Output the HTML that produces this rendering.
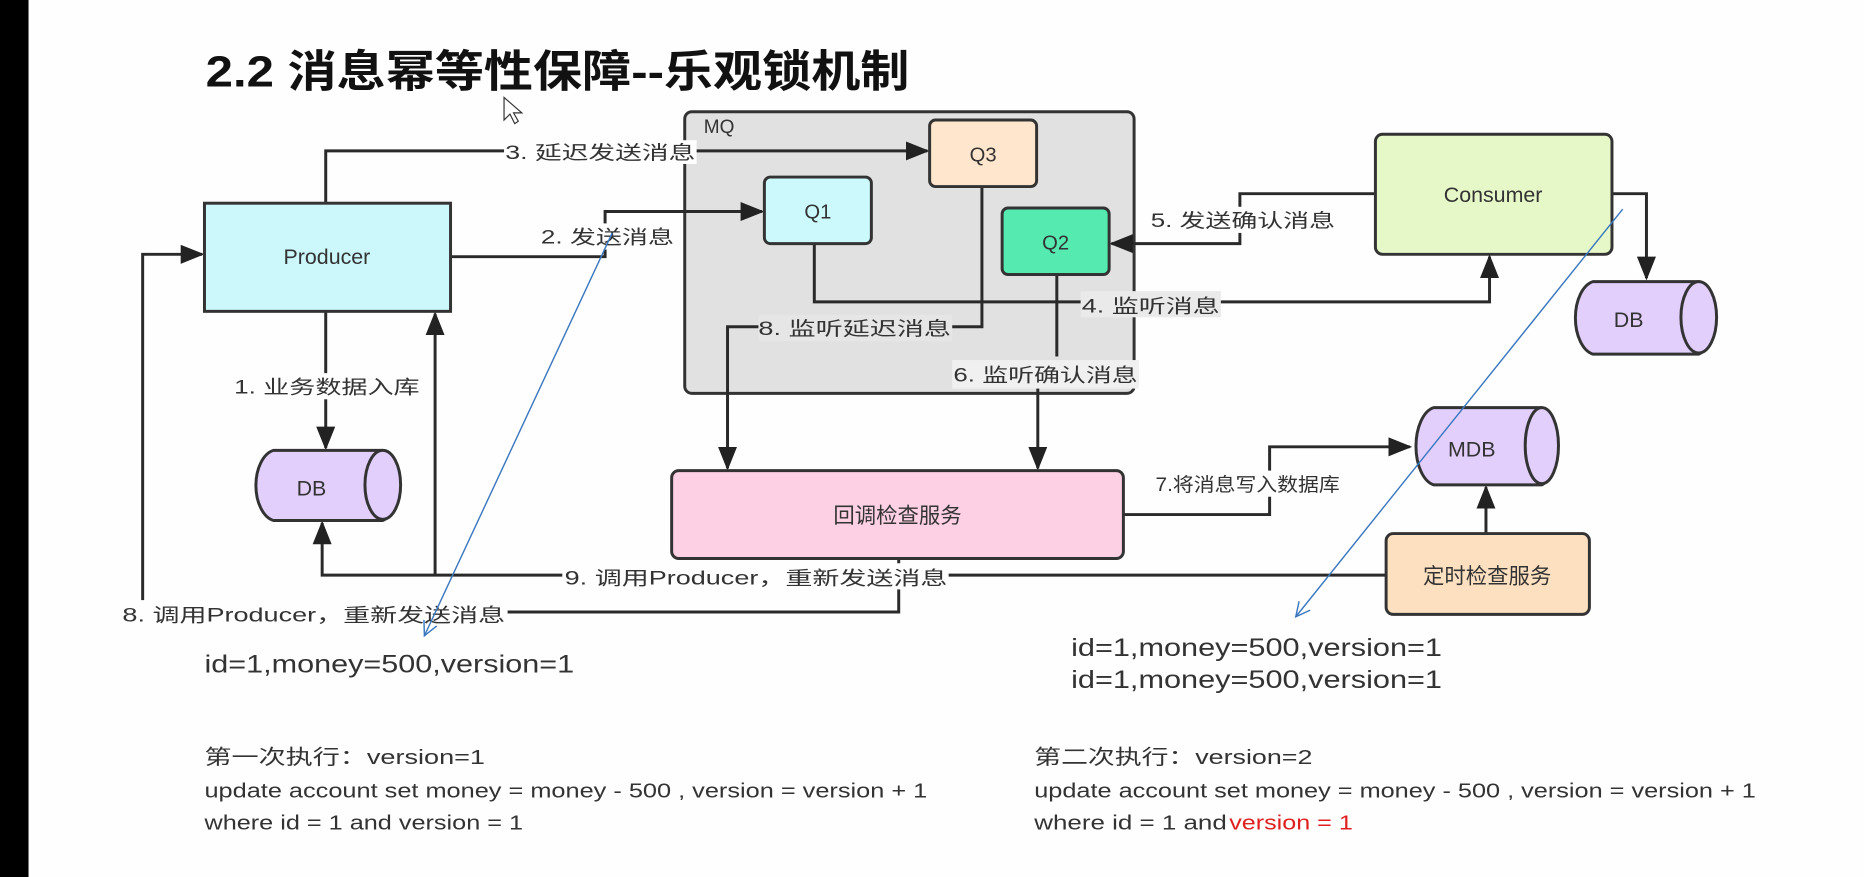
<!DOCTYPE html>
<html><head><meta charset="utf-8"><style>
html,body{margin:0;padding:0;background:#fefefe;}
svg{display:block;}
text{font-family:"Liberation Sans","Noto Sans CJK SC",sans-serif;fill:#333;}
</style></head><body>
<svg width="1864" height="877" viewBox="0 0 1568 738" preserveAspectRatio="none" xmlns="http://www.w3.org/2000/svg">
<defs>
<marker id="a" markerUnits="userSpaceOnUse" markerWidth="20" markerHeight="16" refX="18" refY="8" orient="auto"><path d="M0,0 L20,8 L0,16 Z" fill="#222"/></marker>
<marker id="b" markerUnits="userSpaceOnUse" markerWidth="14" markerHeight="14" refX="12" refY="7" orient="auto"><path d="M0,1 L12,7 L0,13" fill="none" stroke="#3a78c0" stroke-width="1.2"/></marker>
</defs>
<rect x="0" y="0" width="1568" height="738" fill="#fefefe"/>
<rect x="0" y="0" width="24" height="738" fill="#000"/>
<text x="173" y="73" font-size="37" font-weight="bold" fill="#111" textLength="592" lengthAdjust="spacingAndGlyphs" style="fill:#111">2.2 消息幂等性保障--乐观锁机制</text>
<path d="M424,82 L424,101 L429,96 L433,104 L436,102 L432,95 L439,95 Z" fill="#fff" stroke="#333" stroke-width="1"/>

<rect x="576" y="94" width="378" height="237" rx="6" fill="#e1e1e1" stroke="#333" stroke-width="2.5"/>
<text x="592" y="112" font-size="16">MQ</text>

<g stroke="#2a2a2a" stroke-width="2.5" fill="none">
<path d="M274,171 V127 H780" marker-end="url(#a)"/>
<path d="M379,216 H509 V178 H641" marker-end="url(#a)"/>
<path d="M274,262 V377" marker-end="url(#a)"/>
<path d="M366,485 V264" marker-end="url(#a)"/>
<path d="M756,470 V515 H120 V214 H170" marker-end="url(#a)"/>
<path d="M1166,484 H271 V440" marker-end="url(#a)"/>
<path d="M685,205 V254 H1253 V216" marker-end="url(#a)"/>
<path d="M1157,163 H1043 V205 H935" marker-end="url(#a)"/>
<path d="M826,157 V275 H612 V394" marker-end="url(#a)"/>
<path d="M889,231 V300"/>
<path d="M873,325 V394" marker-end="url(#a)"/>
<path d="M945,433 H1068 V376 H1186" marker-end="url(#a)"/>
<path d="M1356,163 H1385 V234" marker-end="url(#a)"/>
<path d="M1250,449 V410" marker-end="url(#a)"/>
</g>

<g stroke="#333" stroke-width="2.5">
<rect x="782" y="101" width="90" height="56" rx="5" fill="#ffe6cc"/>
<rect x="643" y="149" width="90" height="56" rx="5" fill="#ccfafc"/>
<rect x="843" y="175" width="90" height="56" rx="5" fill="#55eab0"/>
<rect x="172" y="171" width="207" height="91" fill="#ccf8fc"/>
<rect x="1157" y="113" width="199" height="101" rx="6" fill="#e6f8c8"/>
<rect x="565" y="396" width="380" height="74" rx="6" fill="#fdd0e4"/>
<rect x="1166" y="449" width="171" height="68" rx="6" fill="#fde0c0"/>
</g>
<text x="827" y="136" font-size="17" text-anchor="middle">Q3</text>
<text x="688" y="184" font-size="17" text-anchor="middle">Q1</text>
<text x="888" y="210" font-size="17" text-anchor="middle">Q2</text>
<text x="275" y="222" font-size="18" text-anchor="middle">Producer</text>
<text x="1256" y="170" font-size="18" text-anchor="middle">Consumer</text>
<text x="755" y="440" font-size="18" text-anchor="middle">回调检查服务</text>
<text x="1251" y="491" font-size="18" text-anchor="middle">定时检查服务</text>

<g stroke="#333" stroke-width="2.5" fill="#e2cffb">
<path d="M230,379 H322 A15,30 0 0 1 322,438 H230 A18,30 0 0 1 230,379 Z"/>
<ellipse cx="322" cy="408" rx="15" ry="29"/>
<path d="M1340,237 H1429 A15,31 0 0 1 1429,298 H1340 A18,31 0 0 1 1340,237 Z"/>
<ellipse cx="1429" cy="267" rx="15" ry="30"/>
<path d="M1206,343 H1297 A14,33 0 0 1 1297,408 H1206 A18,33 0 0 1 1206,343 Z"/>
<ellipse cx="1297" cy="375" rx="14" ry="32"/>
</g>
<text x="262" y="417" font-size="18" text-anchor="middle">DB</text>
<text x="1370" y="275" font-size="18" text-anchor="middle">DB</text>
<text x="1238" y="384" font-size="18" text-anchor="middle">MDB</text>

<g font-size="16">
<rect x="424" y="118" width="162" height="20" fill="#fefefe"/>
<text x="425" y="134" textLength="160" lengthAdjust="spacingAndGlyphs">3. 延迟发送消息</text>
<rect x="455" y="188" width="112" height="22" fill="#fefefe"/>
<text x="455" y="205" textLength="112" lengthAdjust="spacingAndGlyphs">2. 发送消息</text>
<rect x="196" y="314" width="158" height="22" fill="#fefefe"/>
<text x="197" y="331" textLength="156" lengthAdjust="spacingAndGlyphs">1. 业务数据入库</text>
<rect x="638" y="265" width="163" height="22" fill="#e6e6e6"/>
<text x="638" y="282" textLength="162" lengthAdjust="spacingAndGlyphs">8. 监听延迟消息</text>
<rect x="909" y="245" width="118" height="22" fill="#eaeaea"/>
<text x="910" y="263" textLength="116" lengthAdjust="spacingAndGlyphs">4. 监听消息</text>
<rect x="966" y="174" width="158" height="22" fill="#fefefe"/>
<text x="968" y="191" textLength="155" lengthAdjust="spacingAndGlyphs">5. 发送确认消息</text>
<rect x="801" y="303" width="157" height="24" fill="#f0f0f0"/>
<text x="802" y="321" textLength="155" lengthAdjust="spacingAndGlyphs">6. 监听确认消息</text>
<rect x="970" y="396" width="158" height="22" fill="#fefefe"/>
<text x="972" y="413" textLength="155" lengthAdjust="spacingAndGlyphs">7.将消息写入数据库</text>
<rect x="473" y="474" width="325" height="22" fill="#fefefe"/>
<text x="475" y="492" textLength="322" lengthAdjust="spacingAndGlyphs">9. 调用Producer，重新发送消息</text>
<rect x="100" y="505" width="327" height="22" fill="#fefefe"/>
<text x="103" y="523" textLength="322" lengthAdjust="spacingAndGlyphs">8. 调用Producer，重新发送消息</text>
</g>

<line x1="515" y1="196" x2="357" y2="535" stroke="#3a78c0" stroke-width="1.2" marker-end="url(#b)"/>
<line x1="1365" y1="176" x2="1090" y2="519" stroke="#3a78c0" stroke-width="1.2" marker-end="url(#b)"/>

<g font-size="21" style="fill:#444">
<text x="172" y="566" textLength="311" lengthAdjust="spacingAndGlyphs">id=1,money=500,version=1</text>
<text x="901" y="552" textLength="312" lengthAdjust="spacingAndGlyphs">id=1,money=500,version=1</text>
<text x="901" y="579" textLength="312" lengthAdjust="spacingAndGlyphs">id=1,money=500,version=1</text>
</g>
<g font-size="17">
<text x="172" y="643" textLength="236" lengthAdjust="spacingAndGlyphs">第一次执行：version=1</text>
<text x="172" y="671" textLength="608" lengthAdjust="spacingAndGlyphs">update account set money = money - 500 , version = version + 1</text>
<text x="172" y="698" textLength="268" lengthAdjust="spacingAndGlyphs">where id = 1 and version = 1</text>
<text x="870" y="643" textLength="234" lengthAdjust="spacingAndGlyphs">第二次执行：version=2</text>
<text x="870" y="671" textLength="607" lengthAdjust="spacingAndGlyphs">update account set money = money - 500 , version = version + 1</text>
<text x="870" y="698" textLength="162" lengthAdjust="spacingAndGlyphs">where id = 1 and </text>
<text x="1034" y="698" textLength="104" lengthAdjust="spacingAndGlyphs" style="fill:#e02020">version = 1</text>
</g>
</svg>
</body></html>
